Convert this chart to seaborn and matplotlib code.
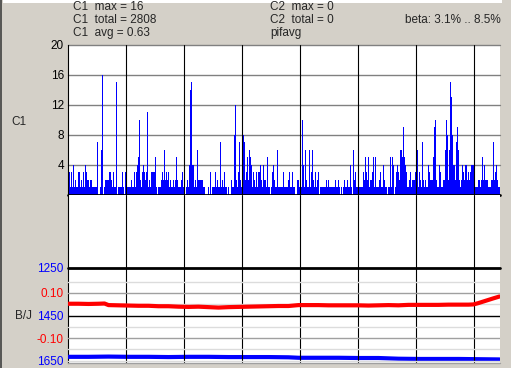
import numpy as np
import pandas as pd
import matplotlib
matplotlib.use("Agg")
import matplotlib.pyplot as plt
import matplotlib.transforms as mtransforms
import seaborn as sns
from matplotlib.lines import Line2D
from matplotlib.patches import Rectangle

sns.set_theme(style="white")
plt.rcParams['font.family'] = ['Liberation Sans', 'DejaVu Sans']

# ---------------- data ----------------
c1_values = [
    3,3,1,3,1,4,1,2,1,1,3,3,1,2,1,3,1,4,3,2,2,1,2,2,
    1,1,1,1,1,7,0,0,1,6,16,0,1,2,2,2,2,3,3,2,1,3,1,1,
    15,0,1,1,1,1,3,1,0,3,2,1,1,1,1,2,1,1,3,1,3,4,5,10,
    2,1,3,4,3,2,3,11,1,2,1,3,3,3,3,5,1,0,1,1,1,2,3,2,
    6,2,3,2,3,1,2,1,1,2,1,2,5,2,1,1,1,2,3,1,1,0,1,2,
    1,4,14,15,4,4,1,2,1,6,2,2,2,2,2,1,1,0,0,0,1,0,3,0,
    1,1,1,3,1,2,1,1,7,1,2,1,3,1,1,0,1,0,0,2,1,1,8,12,
    2,1,3,7,2,1,8,8,7,2,3,5,2,6,5,4,1,3,2,1,3,1,3,3,
    4,2,1,4,2,2,1,5,1,1,0,1,3,4,2,1,1,6,1,1,1,1,1,3,
    1,1,1,1,2,3,1,1,3,1,1,0,0,2,2,1,2,1,10,4,1,6,2,1,
    1,6,1,3,6,2,1,3,1,2,3,0,1,1,1,1,1,1,2,1,2,1,1,1,
    1,1,1,2,1,1,2,1,0,1,0,1,2,1,1,2,1,1,4,1,0,6,2,3,
    1,1,1,1,1,1,1,3,2,5,3,2,5,1,2,2,3,5,1,5,1,1,1,2,
    3,1,1,4,2,1,1,0,1,1,5,1,5,4,0,1,3,4,3,2,6,6,5,9,
    5,4,3,1,1,2,3,1,2,2,2,3,8,6,1,3,2,1,7,2,1,2,1,1,
    4,3,2,2,2,5,9,10,2,1,1,4,3,1,1,2,2,6,10,8,2,6,15,13,
    8,4,4,2,7,9,6,2,1,2,4,3,2,4,4,2,3,2,3,4,4,4,1,1,
    1,1,2,2,1,2,5,2,4,2,2,2,1,1,1,2,2,7,2,3,4,2,1,1,
]
c1_ticks = [4, 8, 12, 16, 20]

red_x = [0, 10, 20, 30, 36, 40, 50, 60, 70, 80, 90, 100, 110, 120, 130, 140,
         150, 160, 170, 180, 190, 200, 210, 220, 230, 240, 250, 260, 270, 280,
         290, 300, 310, 320, 330, 340, 350, 360, 370, 380, 390, 400, 405, 410,
         415, 420, 425, 431]
red_y = [0.052, 0.052, 0.051, 0.052, 0.053, 0.046, 0.045, 0.044, 0.043, 0.043,
         0.041, 0.041, 0.039, 0.038, 0.039, 0.037, 0.035, 0.037, 0.038, 0.039,
         0.040, 0.041, 0.042, 0.042, 0.046, 0.046, 0.046, 0.045, 0.045, 0.045,
         0.045, 0.044, 0.045, 0.046, 0.045, 0.047, 0.047, 0.047, 0.047, 0.048,
         0.048, 0.048, 0.049, 0.055, 0.062, 0.069, 0.076, 0.084]

blue_x = [0, 20, 40, 60, 80, 100, 120, 140, 160, 180, 200, 220, 230, 250, 270,
          290, 310, 330, 350, 370, 390, 410, 431]
blue_y = [1624, 1624, 1623, 1624, 1624, 1625, 1624, 1624, 1625, 1625, 1625,
          1626, 1628, 1628, 1628, 1629, 1629, 1632, 1633, 1633, 1633, 1634, 1635]

blue_ticks = [1250, 1450, 1650]
red_ticks = [0.10, -0.10]
red_light = [0.15, 0.05, -0.05, -0.15, -0.20]
vgrid = [57, 115, 173, 231, 289, 347, 405]

header_left = ["C1  max = 16", "C1  total = 2808", "C1  avg = 0.63"]
header_mid = ["C2  max = 0", "C2  total = 0", "pifavg"]
beta_text = "beta: 3.1% .. 8.5%"

# ---------------- figure ----------------
W, H = 511, 368
BG = '#D4D0C8'
fig = plt.figure(figsize=(W / 100, H / 100), dpi=100, facecolor=BG)


def box(x0, y0, x1, y1):
    return [x0 / W, 1 - y1 / H, (x1 - x0) / W, (y1 - y0) / H]


n = len(c1_values)
ax1 = fig.add_axes(box(68, 44.5, 500, 194.5))
ax_mid = fig.add_axes(box(68, 194.5, 500, 268))
ax_low = fig.add_axes(box(68, 268, 500, 363))

for ax in (ax1, ax_mid, ax_low):
    ax.set_facecolor('white')
    for s in ('top', 'right', 'bottom'):
        ax.spines[s].set_visible(False)
    ax.spines['left'].set_color('black')
    ax.spines['left'].set_linewidth(0.8)
    ax.set_xlim(-0.5, n - 0.5)
    for v in vgrid:
        ax.axvline(v, color='black', lw=0.8, zorder=4)

# C1 bars
df = pd.DataFrame({'x': np.arange(n), 'c1': c1_values})
sns.barplot(data=df, x='x', y='c1', native_scale=True, color='#0000FF',
            saturation=1, width=1, linewidth=0, errorbar=None, ax=ax1,
            zorder=2, antialiased=False)
ax1.set_xlim(-0.5, n - 0.5)
ax1.set_ylim(0, 20)
for v in c1_ticks:
    ax1.axhline(v, color='#808080', lw=1.0, zorder=1, clip_on=False)
ax1.axhline(0, color='black', lw=2.0, zorder=5, clip_on=False)
ax1.set_yticks(c1_ticks)
ax1.set_yticklabels([str(v) for v in c1_ticks])
ax1.set_xticks([])
ax1.set_xlabel('')
ax1.set_ylabel('')
ax1.tick_params(axis='y', length=0, pad=3, labelsize=8.5, colors='black')

ax_mid.set_xticks([])
ax_mid.set_yticks([])

# lower panel
ax_low.set_ylim(1650, 1250)
ax_r = ax_low.twinx()
ax_r.set_ylim(-0.21, 0.21)
for s in ax_r.spines.values():
    s.set_visible(False)
for v in red_light:
    ax_r.axhline(v, color='#DCDCDC', lw=1.0, zorder=1)
for v in red_ticks:
    ax_r.axhline(v, color='#A0A0A0', lw=1.0, zorder=1)
ax_r.axhline(0, color='black', lw=1.0, zorder=1)
ax_low.axhline(1250, color='black', lw=2.0, zorder=5, clip_on=False)
ax_low.axhline(1650, color='#A0A0A0', lw=1.0, zorder=5, clip_on=False)

sns.lineplot(x=blue_x, y=blue_y, ax=ax_low, color='#0000FF', lw=3, zorder=3)
sns.lineplot(x=red_x, y=red_y, ax=ax_r, color='#FF0000', lw=3, zorder=3)
ax_low.set_xlim(-0.5, n - 0.5)

ax_low.set_xticks([])
ax_low.set_yticks(blue_ticks)
ax_low.set_yticklabels([str(v) for v in blue_ticks])
ax_low.tick_params(axis='y', length=0, pad=3, labelsize=8.5, colors='#0000FF')
# nudge the bottom label up slightly so it stays inside the figure
lbls = ax_low.get_yticklabels()
shift = mtransforms.ScaledTranslation(0, 2.5 / 100, fig.dpi_scale_trans)
lbls[-1].set_transform(lbls[-1].get_transform() + shift)
ax_r.yaxis.set_ticks_position('left')
ax_r.yaxis.set_label_position('left')
ax_r.set_yticks(red_ticks)
ax_r.set_yticklabels([f"{v:.2f}" for v in red_ticks])
ax_r.tick_params(axis='y', length=0, pad=3, labelsize=8.5, colors='#FF0000')
ax_r.set_xticks([])

# axis titles
fig.text(19 / W, 1 - 122 / H, "C1", ha='center', va='center', fontsize=8.5)
fig.text(23.5 / W, 1 - 316 / H, "B/J", ha='center', va='center', fontsize=8.5)

# header
for i, (a, b) in enumerate(zip(header_left, header_mid)):
    yy = 1 - (7 + 13 * i) / H
    fig.text(73 / W, yy, a, ha='left', va='center', fontsize=8.5)
    fig.text(270 / W, yy, b, ha='left', va='center', fontsize=8.5)
fig.text(501 / W, 1 - 20 / H, beta_text, ha='right', va='center', fontsize=8.5)

# window decorations
fig.add_artist(Line2D([0.8 / W, 0.8 / W], [0, 1], color='#404040', lw=1.2,
                      transform=fig.transFigure))
fig.add_artist(Rectangle((3 / W, 1 - 2.5 / H), 499 / W, 2.5 / H,
                         transform=fig.transFigure, color='white', lw=0))

fig.savefig("out.png", dpi=100, facecolor=BG)
